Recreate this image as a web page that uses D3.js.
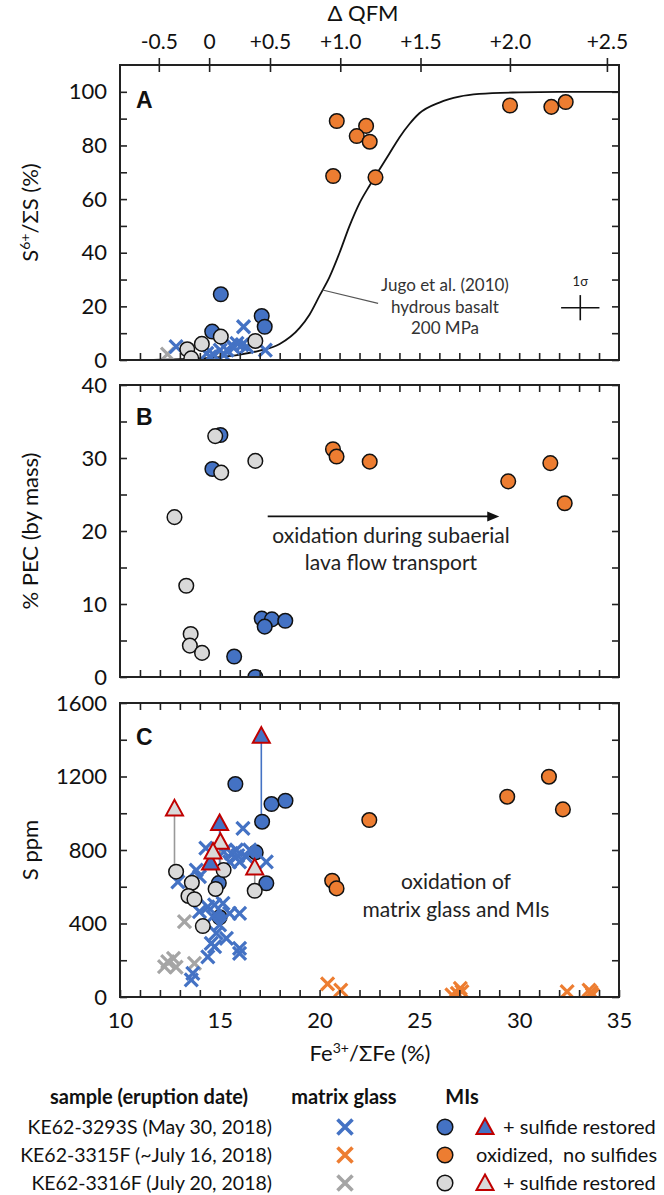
<!DOCTYPE html>
<html><head><meta charset="utf-8">
<script src="https://cdn.jsdelivr.net/npm/d3@7"></script>
<style>
body{margin:0;background:#fff;}
svg{display:block;font-family:Lato,'Open Sans',sans-serif;}
.ax path.domain{display:none;}
.ax line{stroke:#222;stroke-width:1.6;}
.ax text{font-size:22px;fill:#111;font-family:Lato,'Open Sans',sans-serif;}
.pre{white-space:pre;}
</style></head><body><svg id="c" width="664" height="1195"></svg>
<script>
// ---------- data ----------
// Top axis: ΔQFM labels and their Fe3+/ΣFe (%) equivalents
const qfmLabels = ["-0.5","0","+0.5","+1.0","+1.5","+2.0","+2.5"];
const qfmFe     = [11.97, 14.49, 17.54, 21.06, 25.08, 29.56, 34.42];

// Panel A: S6+/ΣS (%) vs Fe3+/ΣFe (%)
const aBlueX   = [[12.81,5.0],[16.19,12.4],[17.28,3.7],[14.35,2.5],[14.69,1.9],[15.02,3.7],[15.36,3.7],[15.6,5.6],[15.86,6.2],[16.11,5.6],[16.36,5.0],[14.5,1.2],[15.2,1.9],[15.7,4.5]];
const aGreyX   = [[12.38,2.2]];
const aBlueMI  = [[15.05,24.5],[14.62,10.6],[17.1,16.4],[17.25,12.4]];
const aGreyMI  = [[13.37,4.0],[13.57,0.6],[14.1,6.0],[15.05,8.7],[16.78,7.1]];
const aOrangeMI= [[20.86,89.1],[22.33,87.3],[21.86,83.5],[22.51,81.4],[20.68,68.6],[22.8,68.1],[29.54,94.9],[31.61,94.4],[32.33,96.2]];
// Jugo et al. (2010) hydrous basalt 200 MPa curve
const jugoFe = [11,12,13,14,15,16,17,18,19,19.5,20,20.5,21,21.5,22,22.5,23,23.5,24,24.5,25,26,27,28,30,32,35];
const jugoS6 = [0.05,0.1,0.3,0.6,1.1,2.0,3.5,6,12,17,24,31,40,50,58.5,65,71,77,83,88,92,96,98.2,99.2,99.8,100,100];
const jugoLeader = [[20.15,26.1],[22.93,21.1]];
const sigmaPoint = [33.06,19.5];
const sigmaErr = [0.96,4.7];

// Panel B: % PEC (by mass)
const bBlueMI  = [[15.03,33.15],[14.63,28.5],[17.1,8.0],[17.61,7.9],[17.25,6.9],[18.28,7.7],[15.72,2.8],[16.78,0]];
const bGreyMI  = [[14.77,33.0],[15.07,28.0],[16.78,29.6],[12.73,21.9],[13.32,12.5],[13.54,5.9],[13.5,4.3],[14.11,3.3]];
const bOrangeMI= [[20.67,31.2],[20.85,30.2],[22.51,29.5],[29.45,26.8],[31.56,29.3],[32.28,23.8]];
const bArrow = [[17.4,22.0],[29.0,22.0]];

// Panel C: S ppm
const cBlueX = [[16.16,918],[15.83,800],[15.58,782],[16.33,764],[15.99,736],[17.33,736],[15.49,736],[16.5,800],[13.82,691],[13.98,655],[12.9,627],[14.4,491],[14.74,501],[15.16,510],[15.49,455],[15.99,455],[13.98,464],[14.65,437],[14.99,392],[14.82,347],[14.57,292],[14.74,274],[15.33,319],[15.99,265],[15.99,238],[14.4,219],[13.65,129],[13.57,93],[14.3,810],[15.2,790],[15.9,770]];
const cGreyX = [[13.23,410],[12.39,192],[12.68,210],[12.23,165],[12.81,162],[13.73,183]];
const cOrangeX = [[20.4,71],[21.06,38],[26.63,11],[27.05,47],[27.13,29],[26.9,20],[32.4,29],[33.5,38],[33.67,11],[33.6,25]];
const cBlueMI = [[14.95,620],[15.78,1159],[17.59,1050],[18.29,1068],[17.12,954],[16.8,787],[17.33,619],[14.99,434]];
const cGreyMI = [[12.81,682],[13.6,622],[13.43,550],[13.73,532],[14.15,386],[15.19,691],[14.79,588],[16.75,578]];
const cOrangeMI = [[20.63,633],[20.85,591],[22.49,963],[29.4,1090],[31.49,1199],[32.19,1021]];
// sulfide-restored: [Fe, S restored, S measured]
const cBlueTri = [[17.08,1417,954],[14.99,941,620],[14.54,727,null]];
const cGreyTri = [[12.73,1021,682],[16.75,700,578],[15.03,840,588],[14.66,786,null]];

// legend
const legendSamples = ["KE62-3293S (May 30, 2018)","KE62-3315F (~July 16, 2018)","KE62-3316F (July 20, 2018)"];
const legendColors = ["#4472C4","#ED7D31","#A5A5A5"];
const legendMIFill = ["#4472C4","#ED7D31","#D9D9D9"];
const legendMIText = ["+ sulfide restored","oxidized,  no sulfides","+ sulfide restored"];

// ---------- drawing ----------
const BLUE="#4472C4", ORANGE="#ED7D31", GREYX="#A5A5A5", GREYF="#D9D9D9", RED="#C00000";
const svg = d3.select("#c");
const X0=120, X1=619;
const xS = d3.scaleLinear().domain([10,35]).range([X0,X1]);
const panels = {
  A:{y:d3.scaleLinear().domain([0,110]).range([360,65]), top:65, bot:360},
  B:{y:d3.scaleLinear().domain([0,40]).range([677,385]), top:385, bot:677},
  C:{y:d3.scaleLinear().domain([0,1600]).range([997,703]), top:703, bot:997}
};

function clip(id,p){
  svg.append("clipPath").attr("id",id).append("rect").attr("x",X0).attr("y",p.top).attr("width",X1-X0).attr("height",p.bot-p.top);
}
function xMarks(g,data,y,color,s=6.5,sw=3.2){
  g.append("g").selectAll("path").data(data).join("path")
    .attr("d",d=>{const cx=xS(d[0]),cy=y(d[1]);return `M${cx-s},${cy-s}L${cx+s},${cy+s}M${cx-s},${cy+s}L${cx+s},${cy-s}`;})
    .attr("stroke",color).attr("stroke-width",sw).attr("fill","none");
}
function circles(g,data,y,fill){
  g.append("g").selectAll("circle").data(data).join("circle")
    .attr("cx",d=>xS(d[0])).attr("cy",d=>y(d[1])).attr("r",7.3)
    .attr("fill",fill).attr("stroke","#111").attr("stroke-width",1.5);
}
function triPath(cx,cy){return `M${cx},${cy-9.5}L${cx+8.5},${cy+6}L${cx-8.5},${cy+6}Z`;}
function tris(g,data,y,fill){
  g.append("g").selectAll("path").data(data).join("path")
    .attr("d",d=>triPath(xS(d[0]),y(d[1])))
    .attr("fill",fill).attr("stroke",RED).attr("stroke-width",2);
}
function yAxes(y,ticks,labelEvery){
  svg.append("g").attr("class","ax").attr("transform",`translate(${X0},0)`)
    .call(d3.axisLeft(y).tickValues(ticks).tickSize(-7).tickPadding(13).tickFormat(d=>d%labelEvery===0?d:""));
  svg.append("g").attr("class","ax").attr("transform",`translate(${X1},0)`)
    .call(d3.axisRight(y).tickValues(ticks).tickSize(-7).tickFormat(""));
}
function frame(p){
  svg.append("rect").attr("x",X0).attr("y",p.top).attr("width",X1-X0).attr("height",p.bot-p.top)
    .attr("fill","none").attr("stroke","#222").attr("stroke-width",2);
}
function letter(t,yb){
  svg.append("text").attr("x",136).attr("y",yb).text(t)
    .attr("font-family","'Liberation Sans',Arial,sans-serif").attr("font-weight","bold").attr("font-size",23).attr("fill","#111");
}
function yTitle(cy,parts){
  const t=svg.append("text").attr("transform",`translate(38,${cy}) rotate(-90)`).attr("text-anchor","middle")
    .attr("font-size",22).attr("fill","#111");
  parts.forEach(p=>{
    const ts=t.append("tspan").text(p.t);
    if(p.sup){ts.attr("font-size",14).attr("dy",-8);} else if(p.after){ts.attr("dy",8);}
  });
}
const minorX = d3.range(11,35);

// ===== Panel A =====
{
  const p=panels.A, y=p.y;
  clip("clipA",p);
  const g=svg.append("g").attr("clip-path","url(#clipA)");
  const line=d3.line().x(d=>xS(d[0])).y(d=>y(d[1])).curve(d3.curveMonotoneX);
  g.append("path").datum(jugoFe.map((f,i)=>[f,jugoS6[i]])).attr("d",line).attr("fill","none").attr("stroke","#111").attr("stroke-width",1.8);
  g.append("line").attr("x1",xS(jugoLeader[0][0])).attr("y1",y(jugoLeader[0][1])).attr("x2",xS(jugoLeader[1][0])).attr("y2",y(jugoLeader[1][1]))
    .attr("stroke","#555").attr("stroke-width",1.2);
  xMarks(g,aGreyX,y,GREYX);
  xMarks(g,aBlueX,y,BLUE);
  circles(g,aBlueMI,y,BLUE);
  circles(g,aGreyMI,y,GREYF);
  circles(g,aOrangeMI,y,ORANGE);
  // 1 sigma cross
  const [sf,ss]=sigmaPoint;
  g.append("line").attr("x1",xS(sf-sigmaErr[0])).attr("x2",xS(sf+sigmaErr[0])).attr("y1",y(ss)).attr("y2",y(ss)).attr("stroke","#111").attr("stroke-width",1.6);
  g.append("line").attr("x1",xS(sf)).attr("x2",xS(sf)).attr("y1",y(ss-sigmaErr[1])).attr("y2",y(ss+sigmaErr[1])).attr("stroke","#111").attr("stroke-width",1.6);
  svg.append("text").attr("x",xS(sf)).attr("y",y(ss+sigmaErr[1])-9).attr("text-anchor","middle").attr("font-size",13).attr("fill","#222").text("1σ");
  const jt=["Jugo et al. (2010)","hydrous basalt","200 MPa"];
  svg.append("g").selectAll("text").data(jt).join("text").attr("x",445).attr("y",(d,i)=>291+i*21.7)
    .attr("text-anchor","middle").attr("font-size",17).attr("fill","#333").text(d=>d);
  yAxes(y,d3.range(0,101,10),20);
  svg.append("g").attr("class","ax").attr("transform",`translate(0,${p.bot})`)
    .call(d3.axisBottom(xS).tickValues(minorX).tickSize(-7).tickFormat(""));
  // top ΔQFM axis
  const tg=svg.append("g");
  tg.selectAll("line").data(qfmFe).join("line").attr("x1",d=>xS(d)).attr("x2",d=>xS(d)).attr("y1",p.top-7).attr("y2",p.top+7)
    .attr("stroke","#222").attr("stroke-width",1.6);
  tg.selectAll("text").data(qfmFe).join("text").attr("x",d=>xS(d)).attr("y",49).attr("text-anchor","middle")
    .attr("font-size",21).attr("fill","#111").text((d,i)=>qfmLabels[i]);
  svg.append("text").attr("x",363).attr("y",21).attr("text-anchor","middle").attr("font-size",22).attr("fill","#111").text("Δ QFM");
  frame(p); letter("A",108);
  yTitle(212.5,[{t:"S"},{t:"6+",sup:true},{t:"/ΣS (%)",after:true}]);
}

// ===== Panel B =====
{
  const p=panels.B, y=p.y;
  clip("clipB",p);
  const g=svg.append("g").attr("clip-path","url(#clipB)");
  circles(g,bBlueMI,y,BLUE);
  circles(g,bGreyMI,y,GREYF);
  circles(g,bOrangeMI,y,ORANGE);
  const ax1=xS(bArrow[0][0]), ax2=xS(bArrow[1][0]), ay=y(bArrow[0][1]);
  g.append("line").attr("x1",ax1).attr("x2",ax2-10).attr("y1",ay).attr("y2",ay).attr("stroke","#111").attr("stroke-width",1.8);
  g.append("path").attr("d",`M${ax2},${ay}L${ax2-12},${ay-5}L${ax2-12},${ay+5}Z`).attr("fill","#111");
  svg.append("g").selectAll("text").data(["oxidation during subaerial","lava flow transport"]).join("text")
    .attr("x",391).attr("y",(d,i)=>543+i*26.6).attr("text-anchor","middle").attr("font-size",21).attr("fill","#222").text(d=>d);
  yAxes(y,d3.range(0,41,5),10);
  svg.append("g").attr("class","ax").attr("transform",`translate(0,${p.bot})`)
    .call(d3.axisBottom(xS).tickValues(minorX).tickSize(-7).tickFormat(""));
  svg.append("g").attr("class","ax").attr("transform",`translate(0,${p.top})`)
    .call(d3.axisTop(xS).tickValues(minorX).tickSize(-7).tickFormat(""));
  frame(p); letter("B",425);
  yTitle(531,[{t:"% PEC (by mass)"}]);
}

// ===== Panel C =====
{
  const p=panels.C, y=p.y;
  clip("clipC",p);
  const g=svg.append("g").attr("clip-path","url(#clipC)");
  // connector lines
  g.append("g").selectAll("line").data(cBlueTri.filter(d=>d[2]!==null)).join("line")
    .attr("x1",d=>xS(d[0])).attr("x2",d=>xS(d[0])).attr("y1",d=>y(d[2])).attr("y2",d=>y(d[1])+6)
    .attr("stroke",BLUE).attr("stroke-width",1.6);
  g.append("g").selectAll("line").data(cGreyTri.filter(d=>d[2]!==null)).join("line")
    .attr("x1",d=>xS(d[0])).attr("x2",d=>xS(d[0])).attr("y1",d=>y(d[2])).attr("y2",d=>y(d[1])+6)
    .attr("stroke","#999").attr("stroke-width",1.6);
  circles(g,cBlueMI,y,BLUE);
  xMarks(g,cGreyX,y,GREYX);
  xMarks(g,cBlueX,y,BLUE);
  xMarks(g,cOrangeX,y,ORANGE);
  circles(g,cGreyMI,y,GREYF);
  circles(g,cOrangeMI,y,ORANGE);
  tris(g,cBlueTri,y,BLUE);
  tris(g,cGreyTri,y,GREYF);
  svg.append("g").selectAll("text").data(["oxidation of","matrix glass and MIs"]).join("text")
    .attr("x",456).attr("y",(d,i)=>889+i*27.6).attr("text-anchor","middle").attr("font-size",21).attr("fill","#222").text(d=>d);
  yAxes(y,d3.range(0,1601,200),400);
  svg.append("g").attr("class","ax").attr("transform",`translate(0,${p.bot})`)
    .call(d3.axisBottom(xS).tickValues(d3.range(10,36)).tickSize(-7).tickPadding(15).tickFormat(d=>d%5===0?d:""));
  svg.append("g").attr("class","ax").attr("transform",`translate(0,${p.top})`)
    .call(d3.axisTop(xS).tickValues(minorX).tickSize(-7).tickFormat(""));
  frame(p); letter("C",745);
  yTitle(850,[{t:"S ppm"}]);
  const xt=svg.append("text").attr("x",370).attr("y",1061).attr("text-anchor","middle").attr("font-size",22).attr("fill","#111");
  xt.append("tspan").text("Fe");
  xt.append("tspan").text("3+").attr("font-size",14).attr("dy",-8);
  xt.append("tspan").text("/ΣFe (%)").attr("dy",8);
}

// ===== Legend =====
{
  const lg=svg.append("g").attr("font-size",20).attr("fill","#111");
  const hy=1104;
  lg.append("text").attr("x",149).attr("y",hy).attr("text-anchor","middle").attr("font-weight","bold").attr("font-size",20).text("sample (eruption date)");
  lg.append("text").attr("x",344).attr("y",hy).attr("text-anchor","middle").attr("font-weight","bold").attr("font-size",20).text("matrix glass");
  lg.append("text").attr("x",462).attr("y",hy).attr("text-anchor","middle").attr("font-weight","bold").attr("font-size",20).text("MIs");
  const rowY=[1127,1155,1183];
  legendSamples.forEach((s,i)=>{
    const cy=rowY[i];
    lg.append("text").attr("x",272).attr("y",cy+7).attr("text-anchor","end").attr("font-size",19.5).text(s);
    const s2=7.5;
    lg.append("path").attr("d",`M${345-s2},${cy-s2}L${345+s2},${cy+s2}M${345-s2},${cy+s2}L${345+s2},${cy-s2}`)
      .attr("stroke",legendColors[i]).attr("stroke-width",3.6).attr("fill","none");
    lg.append("circle").attr("cx",445).attr("cy",cy).attr("r",7.8).attr("fill",legendMIFill[i]).attr("stroke","#111").attr("stroke-width",1.5);
    if(i!==1){
      lg.append("path").attr("d",triPath(485,cy+1)).attr("fill",legendMIFill[i]).attr("stroke",RED).attr("stroke-width",2);
      lg.append("text").attr("x",503).attr("y",cy+7).text(legendMIText[i]);
    } else {
      lg.append("text").attr("class","pre").attr("x",476).attr("y",cy+7).text(legendMIText[i]);
    }
  });
}
</script></body></html>
